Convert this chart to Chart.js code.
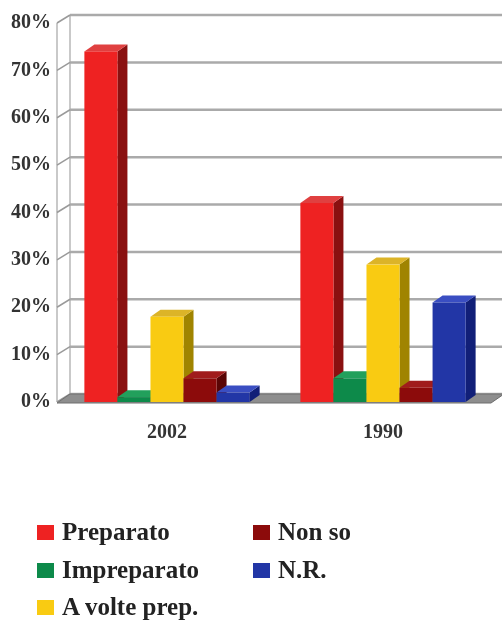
<!DOCTYPE html>
<html>
<head>
<meta charset="utf-8">
<script src="https://cdn.jsdelivr.net/npm/chart.js@4.4.1/dist/chart.umd.min.js"></script>
<style>
  html, body { margin: 0; padding: 0; background: #fff; }
  #wrap { position: relative; width: 502px; height: 626px; overflow: hidden; }
  #c { position: absolute; left: 0; top: 0; }
  #legend { position: absolute; left: 0; top: 0; width: 502px; height: 626px; pointer-events: none; }
  .item { position: absolute; display: flex; align-items: center; font-family: "Liberation Serif", "Times New Roman", serif; font-weight: bold; font-size: 25px; color: #222; white-space: nowrap; }
  .box { width: 17px; height: 15px; margin-right: 8px; }
</style>
</head>
<body>
<div id="wrap">
  <canvas id="c" width="502" height="470"></canvas>
  <div id="legend"></div>
</div>
<script>
const categories = ['2002', '1990'];
const seriesNames = ['Preparato', 'Impreparato', 'A volte prep.', 'Non so', 'N.R.'];
const preparato = [74, 42];
const impreparato = [1, 5];
const aVoltePrep = [18, 29];
const nonSo = [5, 3];
const nr = [2, 21];
const yTicks = [0, 10, 20, 30, 40, 50, 60, 70, 80];

const frontColors = ['#ee2222', '#0d8a4a', '#f9cb12', '#8c0b0b', '#2236a6'];
const sideColors  = ['#8a1010', '#06602f', '#a08400', '#5a0505', '#111f78'];
const topColors   = ['#e04040', '#22a05c', '#dcb428', '#a01c1c', '#3a4ec2'];

const seriesValues = [preparato, impreparato, aVoltePrep, nonSo, nr];

const DX = 13, DY = 8;      // wall depth
const BDX = 10, BDY = 7;    // bar depth

const threeD = {
  id: 'threeD',
  beforeDatasetsDraw(chart) {
    const ctx = chart.ctx;
    const a = chart.chartArea;
    const ys = chart.scales.y;
    const FL = a.left - 2;
    const bottom = ys.getPixelForValue(0);
    const topY = ys.getPixelForValue(80);
    ctx.save();
    // left wall verticals
    ctx.strokeStyle = '#b8b8b8';
    ctx.lineWidth = 1.5;
    ctx.beginPath();
    ctx.moveTo(FL, topY); ctx.lineTo(FL, bottom);
    ctx.moveTo(FL + DX, topY - DY); ctx.lineTo(FL + DX, bottom - DY);
    ctx.stroke();
    // back wall gridlines + slanted wall lines
    yTicks.forEach(v => {
      const y = ys.getPixelForValue(v);
      ctx.strokeStyle = '#aaaaaa';
      ctx.lineWidth = 2.5;
      ctx.beginPath();
      ctx.moveTo(FL + DX, y - DY);
      ctx.lineTo(a.right + DX + 6, y - DY);
      ctx.stroke();
      ctx.strokeStyle = '#9a9a9a';
      ctx.lineWidth = 1.5;
      ctx.beginPath();
      ctx.moveTo(FL, y);
      ctx.lineTo(FL + DX, y - DY);
      ctx.stroke();
    });
    // floor
    ctx.fillStyle = '#8e8e8e';
    ctx.beginPath();
    ctx.moveTo(FL, bottom + 1);
    ctx.lineTo(FL + DX, bottom - DY);
    ctx.lineTo(a.right + DX, bottom - DY);
    ctx.lineTo(a.right, bottom + 1);
    ctx.closePath();
    ctx.fill();
    ctx.strokeStyle = '#6e6e6e';
    ctx.lineWidth = 1;
    ctx.stroke();
    // bars
    const metas = chart.data.datasets.map((d, i) => chart.getDatasetMeta(i));
    for (let j = 0; j < chart.data.labels.length; j++) {
      metas.forEach((meta, i) => {
        const el = meta.data[j];
        if (!el) return;
        const w = el.width;
        const l = el.x - w / 2, r = el.x + w / 2;
        const t = el.y, b = el.base;
        // side
        ctx.fillStyle = sideColors[i];
        ctx.beginPath();
        ctx.moveTo(r, t); ctx.lineTo(r + BDX, t - BDY);
        ctx.lineTo(r + BDX, b - BDY); ctx.lineTo(r, b);
        ctx.closePath(); ctx.fill();
        // top
        ctx.fillStyle = topColors[i];
        ctx.beginPath();
        ctx.moveTo(l, t); ctx.lineTo(l + BDX, t - BDY);
        ctx.lineTo(r + BDX, t - BDY); ctx.lineTo(r, t);
        ctx.closePath(); ctx.fill();
        // front
        ctx.fillStyle = frontColors[i];
        ctx.fillRect(l, t, w, b - t);
      });
    }
    ctx.restore();
    return false;
  }
};

const chart = new Chart(document.getElementById('c'), {
  type: 'bar',
  data: {
    labels: categories,
    datasets: seriesNames.map((name, i) => ({
      label: name,
      data: seriesValues[i],
      backgroundColor: frontColors[i],
      barPercentage: 1.0,
      categoryPercentage: 0.765
    }))
  },
  plugins: [threeD],
  options: {
    responsive: false,
    animation: false,
    layout: { padding: { top: 23, right: 11, left: 0, bottom: 0 } },
    plugins: { legend: { display: false }, tooltip: { enabled: false } },
    scales: {
      x: {
        grid: { display: false, drawTicks: false },
        border: { display: false },
        ticks: { color: '#333', font: { family: 'Liberation Serif', weight: 'bold', size: 20 }, padding: 19 },
        afterFit(s) { s.height = 68; }
      },
      y: {
        min: 0, max: 80,
        grid: { display: false, drawTicks: false },
        border: { display: false },
        ticks: {
          stepSize: 10,
          color: '#333',
          font: { family: 'Liberation Serif', weight: 'bold', size: 20 },
          padding: 8,
          callback: v => v + '%'
        },
        afterFit(s) { s.width = 59; }
      }
    }
  }
});

// HTML legend built from the chart's datasets, column-major
const legendPos = [
  { x: 37, y: 532 }, { x: 37, y: 570 }, { x: 37, y: 607 },
  { x: 253, y: 532 }, { x: 253, y: 570 }
];
const legend = document.getElementById('legend');
chart.data.datasets.forEach((ds, i) => {
  const it = document.createElement('div');
  it.className = 'item';
  it.style.left = legendPos[i].x + 'px';
  it.style.top = (legendPos[i].y - 16) + 'px';
  it.style.height = '32px';
  const bx = document.createElement('span');
  bx.className = 'box';
  bx.style.background = ds.backgroundColor;
  const tx = document.createElement('span');
  tx.textContent = ds.label;
  it.appendChild(bx); it.appendChild(tx);
  legend.appendChild(it);
});
</script>
</body>
</html>
